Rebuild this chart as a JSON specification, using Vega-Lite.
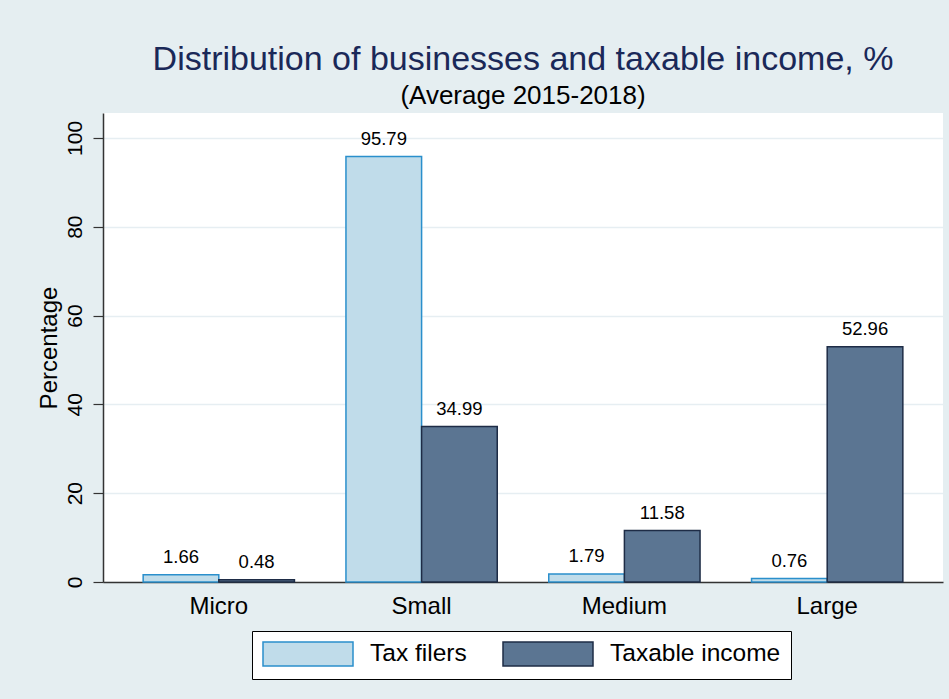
{
  "$schema": "https://vega.github.io/schema/vega-lite/v6.json",
  "autosize": "none",
  "width": 840,
  "height": 469,
  "padding": {"left": 103, "top": 113, "right": 6, "bottom": 117},
  "background": "#e5eef1",
  "config": {
    "font": "Liberation Sans",
    "view": {"fill": "white", "stroke": null}
  },
  "title": {
    "text": "Distribution of businesses and taxable income, %",
    "subtitle": "(Average 2015-2018)",
    "anchor": "middle",
    "frame": "group",
    "fontSize": 34,
    "fontWeight": "normal",
    "color": "#1a2858",
    "subtitleFontSize": 26,
    "subtitleColor": "#000000",
    "subtitlePadding": 6,
    "offset": 4
  },
  "data": {
    "values": [
      {"size": "Micro", "series": "Tax filers", "value": 1.66},
      {"size": "Micro", "series": "Taxable income", "value": 0.48},
      {"size": "Small", "series": "Tax filers", "value": 95.79},
      {"size": "Small", "series": "Taxable income", "value": 34.99},
      {"size": "Medium", "series": "Tax filers", "value": 1.79},
      {"size": "Medium", "series": "Taxable income", "value": 11.58},
      {"size": "Large", "series": "Tax filers", "value": 0.76},
      {"size": "Large", "series": "Taxable income", "value": 52.96}
    ]
  },
  "encoding": {
    "x": {
      "field": "size",
      "type": "nominal",
      "sort": ["Micro", "Small", "Medium", "Large"],
      "scale": {"paddingInner": 0.254, "paddingOuter": 0.198},
      "axis": {
        "title": null,
        "labelAngle": 0,
        "labelFontSize": 24,
        "labelColor": "#000000",
        "labelPadding": 12,
        "ticks": false,
        "domainColor": "#333333",
        "domainWidth": 1.5
      }
    },
    "xOffset": {"field": "series", "type": "nominal", "sort": ["Tax filers", "Taxable income"]},
    "y": {
      "field": "value",
      "type": "quantitative",
      "scale": {"domain": [0, 105.6], "nice": false},
      "axis": {
        "title": "Percentage",
        "titleFontSize": 24,
        "titleFontWeight": "normal",
        "titleColor": "#000000",
        "titlePadding": 3,
        "values": [0, 20, 40, 60, 80, 100],
        "labelAngle": 270,
        "labelAlign": "center",
        "labelBaseline": "bottom",
        "labelFontSize": 21,
        "labelColor": "#000000",
        "labelPadding": 8,
        "tickSize": 10,
        "tickColor": "#333333",
        "tickWidth": 1.2,
        "domainColor": "#333333",
        "domainWidth": 1.5,
        "gridColor": "#e6eef2",
        "gridWidth": 1.5
      }
    }
  },
  "layer": [
    {
      "mark": {"type": "bar", "strokeWidth": 1.5},
      "encoding": {
        "fill": {
          "field": "series",
          "type": "nominal",
          "scale": {"domain": ["Tax filers", "Taxable income"], "range": ["#c0dcea", "#5b7592"]},
          "legend": {
            "title": null,
            "orient": "none",
            "legendX": 149,
            "legendY": 518,
            "direction": "horizontal",
            "columns": 2,
            "fillColor": "white",
            "strokeColor": "#000000",
            "padding": 10,
            "symbolType": "M-1,-1H6.5V1H-1Z",
            "symbolSize": 576,
            "symbolStrokeWidth": 1.5,
            "labelFontSize": 24.5,
            "labelColor": "#000000",
            "labelOffset": 82,
            "labelLimit": 400,
            "columnPadding": 33
          }
        },
        "stroke": {
          "field": "series",
          "type": "nominal",
          "scale": {"domain": ["Tax filers", "Taxable income"], "range": ["#2a8fcc", "#1e2c46"]},
          "legend": null
        }
      }
    },
    {
      "mark": {"type": "text", "fontSize": 18.5, "baseline": "bottom", "dy": -8, "color": "#000000"},
      "encoding": {
        "text": {"field": "value", "type": "quantitative", "format": ".2f"}
      }
    }
  ]
}
